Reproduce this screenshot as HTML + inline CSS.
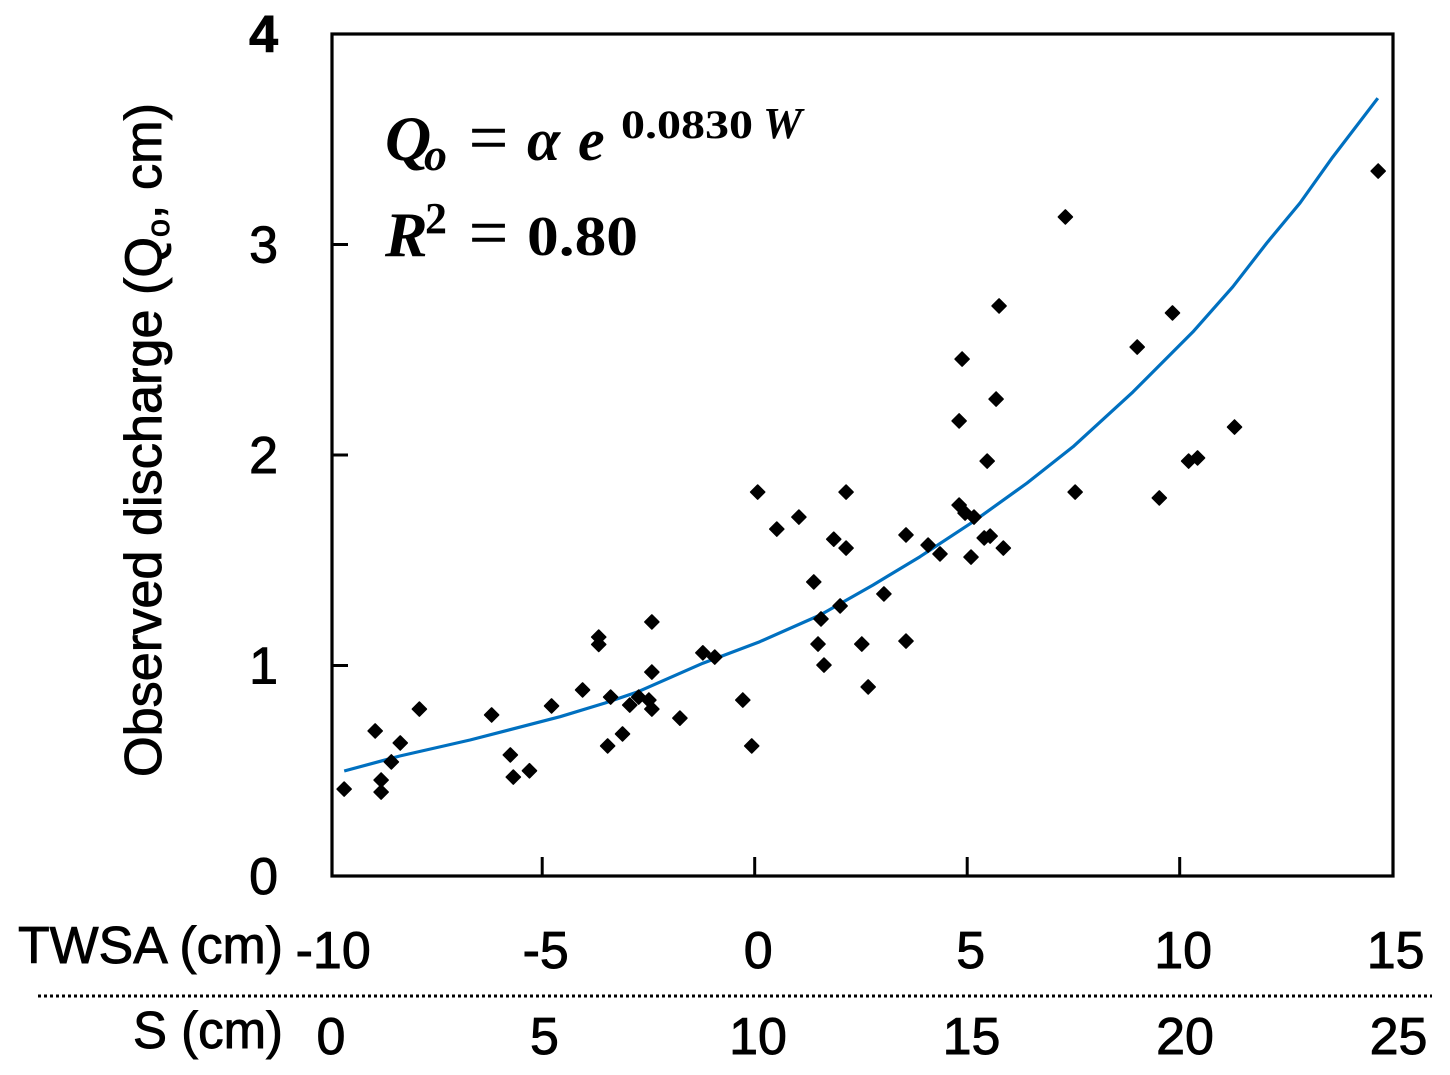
<!DOCTYPE html>
<html lang="en">
<head>
<meta charset="utf-8">
<title>Observed discharge vs TWSA</title>
<style>
html,body{margin:0;padding:0;background:#fff;}
svg{display:block;}
text{fill:#000;}
.lab{font-family:"Liberation Sans",sans-serif;font-size:52px;stroke:#000;stroke-width:0.9px;}
.eq{font-family:"Liberation Serif",serif;font-size:56px;font-weight:bold;}
.eqs{font-family:"Liberation Serif",serif;font-size:70px;stroke:#000;stroke-width:0.6px;}
.eqi{font-family:"Liberation Serif",serif;font-size:60px;font-style:italic;font-weight:bold;}
</style>
</head>
<body>
<svg id="chart" xmlns="http://www.w3.org/2000/svg" width="1450" height="1075" viewBox="0 0 1450 1075">
  <rect x="332" y="34" width="1061" height="842" fill="none" stroke="#000" stroke-width="3.2"/>
  <g id="ticks"></g>
  <g id="labels"></g>
  <polyline id="fit" fill="none" stroke="#0070c0" stroke-width="3.2" stroke-linejoin="round"/>
  <g id="points"></g>

  <text class="lab" transform="translate(161,777) rotate(-90)" textLength="674" lengthAdjust="spacingAndGlyphs">Observed discharge (Q<tspan font-size="32" dy="8">o</tspan><tspan dy="-8">, cm)</tspan></text>
  <text class="lab" x="18" y="963" textLength="265" lengthAdjust="spacingAndGlyphs">TWSA (cm)</text>
  <text class="lab" x="133" y="1048" textLength="150" lengthAdjust="spacingAndGlyphs">S (cm)</text>
  <line x1="38" y1="996" x2="1432" y2="996" stroke="#000" stroke-width="3" stroke-dasharray="3 3"/>

  <g>
    <text class="eqi" x="385" y="160" style="font-size:64px">Q</text>
    <text class="eqi" x="424" y="170" style="font-size:46px">o</text>
    <text class="eqs" x="469" y="161" textLength="39" lengthAdjust="spacingAndGlyphs">=</text>
    <text class="eqi" x="527" y="160">α</text>
    <text class="eqi" x="578" y="160">e</text>
    <text class="eq" x="621" y="138" style="font-size:40px" textLength="132" lengthAdjust="spacingAndGlyphs">0.0830</text>
    <text class="eqi" x="763" y="138" style="font-size:44px">W</text>
  </g>
  <g>
    <text class="eqi" x="385" y="256" style="font-size:64px">R</text>
    <text class="eq" x="425" y="233" style="font-size:44px">2</text>
    <text class="eqs" x="469" y="256" textLength="39" lengthAdjust="spacingAndGlyphs">=</text>
    <text class="eq" x="527" y="255" textLength="111" lengthAdjust="spacingAndGlyphs">0.80</text>
  </g>
</svg>
<script>
// Observed points
const twsaValues = [-9.66,-8.93,-8.79,-8.79,-8.55,-8.34,-7.89,-6.19,-5.75,-5.68,-5.30,-4.78,-4.05,-3.67,-3.67,-3.46,-3.39,-3.11,-2.94,-2.73,-2.49,-2.42,-2.42,-2.42,-1.76,-1.22,-0.94,-0.28,-0.07,0.07,0.52,1.04,1.39,1.56,1.49,1.63,1.86,2.01,2.15,2.15,2.52,2.67,3.04,3.56,3.56,4.08,4.36,4.81,4.81,4.88,4.95,5.16,5.09,5.40,5.54,5.47,5.68,5.75,5.85,7.31,7.54,9.00,9.52,9.83,10.21,10.42,11.29,14.67];
const dischargeValues = [0.413,0.689,0.456,0.399,0.542,0.632,0.793,0.765,0.575,0.470,0.500,0.808,0.884,1.135,1.100,0.618,0.850,0.675,0.812,0.850,0.836,0.793,0.969,1.207,0.750,1.060,1.040,0.836,0.618,1.824,1.648,1.705,1.397,1.221,1.102,1.002,1.600,1.283,1.558,1.824,1.102,0.898,1.340,1.620,1.116,1.572,1.530,2.162,1.762,2.456,1.724,1.705,1.515,1.606,1.615,1.971,2.266,2.708,1.558,3.131,1.824,2.513,1.796,2.675,1.971,1.986,2.133,3.349];

// Fitted curve
const fitTwsa = [-9.66,-8.35,-6.70,-4.58,-3.52,-2.75,-1.22,0.12,1.54,2.78,3.89,5.14,6.41,7.49,8.90,10.31,11.25,12.05,12.83,13.60,14.66];
const fitDischarge = [0.499,0.570,0.646,0.757,0.822,0.875,1.011,1.113,1.240,1.382,1.517,1.683,1.867,2.039,2.300,2.585,2.799,3.007,3.197,3.415,3.695];

// Tick labels
const yTicks = [0,1,2,3,4];
const twsaTicks = [-10,-5,0,5,10,15];
const sTicks = [0,5,10,15,20,25];

const SVGNS = 'http://www.w3.org/2000/svg';
function xScale(v){ return 754.7 + 42.5 * v; }
function yScale(v){ return 876 - 210.5 * v; }
function sScale(v){ return 331 + 42.7 * v; }

function make(tag, parent, attrs){
  const el = document.createElementNS(SVGNS, tag);
  for (const k in attrs) el.setAttribute(k, attrs[k]);
  parent.appendChild(el);
  return el;
}

const tickGroup = document.getElementById('ticks');
const labelGroup = document.getElementById('labels');
const pointGroup = document.getElementById('points');

yTicks.forEach(function(v){
  if (v > 0 && v < 4) {
    const t = make('line', tickGroup, {x1:332, x2:348, y1:yScale(v), y2:yScale(v), stroke:'#000', 'stroke-width':3});
    
    
  }
  const l = make('text', labelGroup, {x:278, y:yScale(v)+18, 'text-anchor':'end', class:'lab'});
  
  
  if (v === 4) l.setAttribute('font-weight', 'bold');
  l.textContent = String(v);
});

twsaTicks.forEach(function(v){
  if (v > -10 && v < 15) {
    const t = make('line', tickGroup, {x1:xScale(v), x2:xScale(v), y1:876, y2:857, stroke:'#000', 'stroke-width':3});
    
    
  }
  const l = make('text', labelGroup, {x:xScale(v)+3.5, y:968, 'text-anchor':'middle', class:'lab'});
  
  
  l.textContent = String(v);
});

sTicks.forEach(function(v){
  const l = make('text', labelGroup, {x:sScale(v), y:1054, 'text-anchor':'middle', class:'lab'});
  
  
  l.textContent = String(v);
});

document.getElementById('fit').setAttribute('points',
  fitTwsa.map(function(v,i){ return xScale(v).toFixed(1) + ',' + yScale(fitDischarge[i]).toFixed(1); }).join(' '));

twsaValues.forEach(function(v,i){
  const cx = xScale(v), cy = yScale(dischargeValues[i]), r = 7;
  const p = make('polygon', pointGroup, {points:[cx,cy-r,cx+r,cy,cx,cy+r,cx-r,cy].join(' '), fill:'#000', stroke:'#000', 'stroke-width':1.6, 'stroke-linejoin':'round'});
  
  
});
</script>
</body>
</html>
